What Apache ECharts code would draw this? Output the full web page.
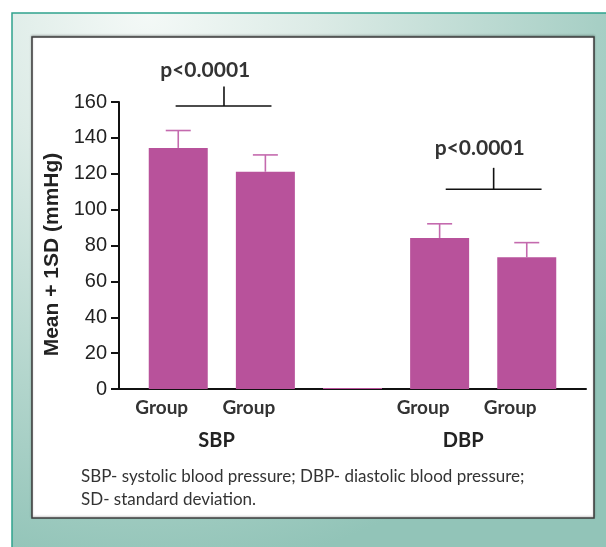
<!DOCTYPE html>
<html>
<head>
<meta charset="utf-8">
<script src="https://cdn.jsdelivr.net/npm/echarts@6/dist/echarts.min.js"></script>
<style>
html,body{margin:0;padding:0;background:#fff;}
#chart{width:606px;height:547px;}
</style>
</head>
<body>
<div id="chart"></div>
<script>
// ---- data ----
const barLabels = ['Group', 'Group', '', 'Group', 'Group'];
const barPositions = [1, 2, 3, 4, 5];
const groupNames = ['SBP', 'DBP'];
const meanValues = [134.4, 121.1, 0.6, 84.2, 73.4];
const sdValues = [9.7, 9.4, 0, 7.9, 8.2];
const yTicks = [0, 20, 40, 60, 80, 100, 120, 140, 160];
const pLabels = ['p<0.0001', 'p<0.0001'];
// bracket: [xStart, xEnd, xTick, yLine, yTickTop]
const brackets = [
  [0.97, 2.07, 1.525, 157.8, 168.7],
  [4.07, 5.17, 4.62, 111.4, 123.3]
];
// p label anchor: [x, y]
const pLabelAnchors = [[1.31, 177.6], [4.46, 134.1]];
const footnoteLines = [
  'SBP- systolic blood pressure; DBP- diastolic blood pressure;',
  'SD- standard deviation.'
];

const chart = echarts.init(document.getElementById('chart'), null, {renderer: 'canvas'});

const barData = barPositions.map((x, i) => [x, meanValues[i]]);
const errData = barPositions.map((x, i) => [x, meanValues[i], meanValues[i] + sdValues[i]]).filter((d, i) => sdValues[i] > 0);
const bracketData = brackets.map((b, i) => b.concat([pLabelAnchors[i][0], pLabelAnchors[i][1], i]));
// category labels sit slightly left of the bar centres in the original
const labelShift = 0.19;
const groupLabelPos = [1.44, 4.27];

const option = {
  animation: false,
  backgroundColor: '#ffffff',
  graphic: [
    {
      type: 'rect', z: -10, silent: true,
      shape: {x: 12, y: 13, width: 620, height: 560},
      style: {
        fill: {
          type: 'radial', x: 0.22, y: 0.0, r: 1.0,
          colorStops: [
            {offset: 0, color: '#f4f9f7'},
            {offset: 0.3, color: '#dcebe6'},
            {offset: 1, color: '#92c4b8'}
          ]
        },
        stroke: '#2fa38d', lineWidth: 1.5
      }
    },
    {
      type: 'rect', z: -9, silent: true,
      shape: {x: 32, y: 37, width: 562, height: 481},
      style: {
        fill: '#ffffff', stroke: '#3c3c3c', lineWidth: 1.5,
        shadowBlur: 2, shadowColor: 'rgba(0,0,0,0.25)', shadowOffsetX: 0, shadowOffsetY: -1
      }
    },
    {
      type: 'text', left: 81, top: 468, silent: true,
      style: {text: footnoteLines[0], fill: '#333', font: '17px Lato'}
    },
    {
      type: 'text', left: 81, top: 491, silent: true,
      style: {text: footnoteLines[1], fill: '#333', font: '17px Lato'}
    }
  ],
  grid: {left: 119, right: 20, top: 102, bottom: 158, containLabel: false},
  xAxis: [
    {
      type: 'value', min: 0.32, max: 5.68,
      axisLine: {show: true, onZero: false, lineStyle: {color: '#111', width: 2}},
      axisTick: {show: false},
      splitLine: {show: false},
      axisLabel: {
        show: true, margin: 9,
        customValues: barPositions.filter((p, i) => barLabels[i] !== '').map(p => p - labelShift),
        formatter: v => barLabels[barPositions.indexOf(Math.round(v + labelShift))] || '',
        color: '#333', fontFamily: 'Lato', fontWeight: 'bold', fontSize: 19
      }
    },
    {
      type: 'value', min: 0.32, max: 5.68, position: 'bottom',
      axisLine: {show: false}, axisTick: {show: false}, splitLine: {show: false},
      axisLabel: {
        show: true, margin: 42, customValues: groupLabelPos,
        formatter: v => (v < 3 ? groupNames[0] : groupNames[1]),
        color: '#222', fontFamily: 'Lato', fontWeight: 'bold', fontSize: 20
      }
    }
  ],
  yAxis: {
    type: 'value', min: 0, max: 160, interval: 20,
    name: 'Mean + 1SD (mmHg)', nameLocation: 'middle', nameRotate: 90, nameGap: 51,
    nameTextStyle: {color: '#222', fontFamily: 'Liberation Sans', fontWeight: 'bold', fontSize: 21,
      padding: [0, 18, 0, 0]},
    axisLine: {show: true, lineStyle: {color: '#111', width: 2}},
    axisTick: {show: true, length: 8, lineStyle: {color: '#111', width: 2}},
    splitLine: {show: false},
    axisLabel: {
      margin: 12, color: '#222', fontFamily: 'Liberation Sans', fontSize: 20,
      customValues: yTicks
    }
  },
  series: [
    {
      type: 'bar', data: barData, barWidth: 59,
      itemStyle: {color: '#b8529b'}, z: 2
    },
    {
      type: 'custom', data: errData, z: 3,
      renderItem: (params, api) => {
        const x = api.value(0);
        const p0 = api.coord([x, api.value(1)]);
        const p1 = api.coord([x, api.value(2)]);
        const half = 12.5;
        const st = {stroke: '#c46aae', lineWidth: 1.6};
        return {type: 'group', children: [
          {type: 'line', shape: {x1: p0[0], y1: p0[1], x2: p1[0], y2: p1[1]}, style: st},
          {type: 'line', shape: {x1: p1[0] - half, y1: p1[1], x2: p1[0] + half, y2: p1[1]}, style: st}
        ]};
      }
    },
    {
      type: 'custom', data: bracketData, z: 4, clip: false,
      renderItem: (params, api) => {
        const a = api.coord([api.value(0), api.value(3)]);
        const b = api.coord([api.value(1), api.value(3)]);
        const t0 = api.coord([api.value(2), api.value(3)]);
        const t1 = api.coord([api.value(2), api.value(4)]);
        const lp = api.coord([api.value(5), api.value(6)]);
        const st = {stroke: '#111', lineWidth: 1.6};
        return {type: 'group', children: [
          {type: 'line', shape: {x1: a[0], y1: a[1], x2: b[0], y2: b[1]}, style: st},
          {type: 'line', shape: {x1: t0[0], y1: t0[1], x2: t1[0], y2: t1[1]}, style: st},
          {type: 'text', x: lp[0], y: lp[1], style: {
            text: pLabels[api.value(7)], fill: '#333', align: 'center', verticalAlign: 'middle',
            font: 'bold 21px Lato'
          }}
        ]};
      }
    }
  ]
};
chart.setOption(option);
</script>
</body>
</html>
